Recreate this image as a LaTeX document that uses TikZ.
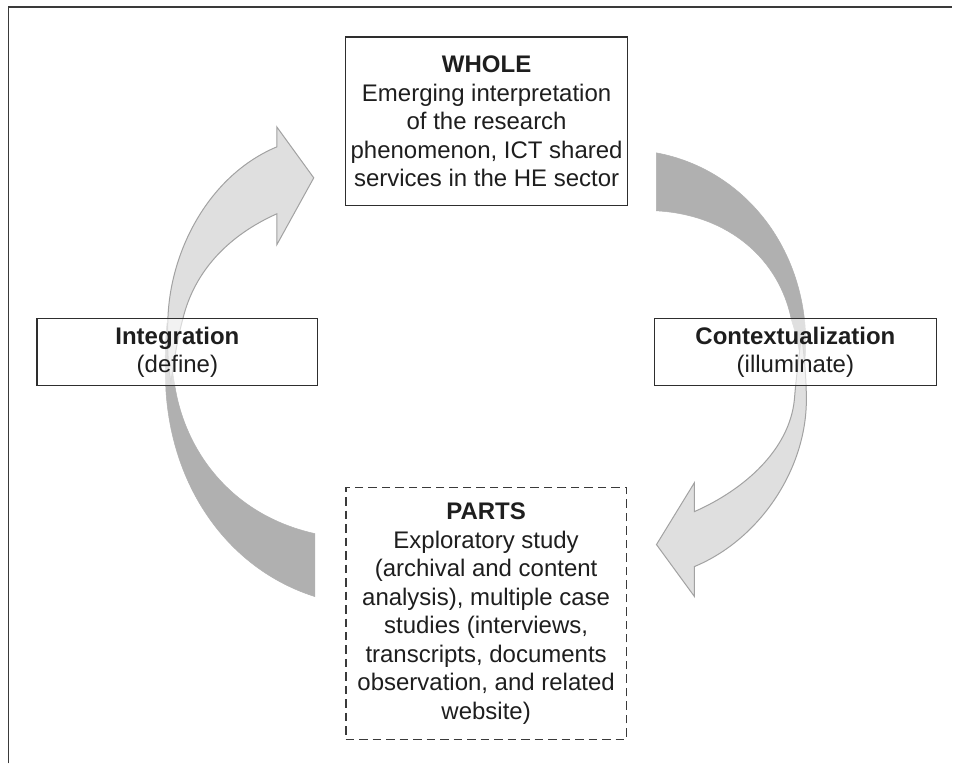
\documentclass[tikz,border=0pt]{standalone}
\usepackage{fontspec}
\setmainfont{Liberation Sans}
\begin{document}
\definecolor{frameline}{HTML}{3A3A3A}
\definecolor{boxline}{HTML}{2E2E2E}
\definecolor{inktext}{HTML}{1E1E1E}
\definecolor{lightarrow}{HTML}{DFDFDF}
\definecolor{lightedge}{HTML}{A2A2A2}
\definecolor{darkarrow}{HTML}{B0B0B0}
\begin{tikzpicture}[x=1pt,y=-1pt,
  textbox/.style={draw=boxline,line width=1.3pt,fill=white,fill opacity=0.6,
    text opacity=1,text=inktext,inner sep=0pt,align=center,
    font=\fontsize{24}{28.5}\selectfont},
  partsbox/.style={textbox,line width=1.6pt,draw=frameline,dash pattern=on 8.5pt off 5pt},
  lightshape/.style={fill=lightarrow,draw=lightedge,line width=1pt,line join=miter},
  darkshape/.style={fill=darkarrow,draw=darkarrow,line width=0.5pt}]

% page and open frame
\fill[white] (0,0) rectangle (953,764);
\draw[frameline,line width=1.5pt] (8.5,764) -- (8.5,7) -- (953,7);

% left: dark tail rising from PARTS
\path[darkshape] (315,534) -- (315,597)
  .. controls (230,570) and (172,490) .. (166,390)
  .. controls (165,365) and (165,345) .. (167,325)
  .. controls (170,350) and (172,370) .. (175,386)
  .. controls (185,450) and (230,515) .. (315,534) -- cycle;

% left: light arrow into WHOLE
\path[lightshape] (171,382)
  .. controls (168,365) and (167,345) .. (168,320)
  .. controls (170,250) and (210,175) .. (277,147)
  -- (277,127) -- (314,178) -- (277,245) -- (277,214)
  .. controls (230,235) and (195,270) .. (183,319)
  .. controls (176,345) and (174,365) .. (171,382) -- cycle;

% right: dark tail leaving WHOLE
\path[darkshape] (657,153)
  .. controls (738,168) and (800,238) .. (806,330)
  .. controls (807,345) and (806,360) .. (804,375)
  .. controls (800,350) and (797,335) .. (792,320)
  .. controls (780,260) and (730,215) .. (657,211) -- cycle;

% right: light arrow into PARTS
\path[lightshape] (802,335)
  .. controls (805,355) and (807,380) .. (807,400)
  .. controls (807,470) and (760,540) .. (695,567)
  -- (695,597) -- (657,545) -- (695,483) -- (695,512)
  .. controls (745,490) and (790,450) .. (795,400)
  .. controls (797,375) and (800,355) .. (802,335) -- cycle;

% boxes
\node[textbox,minimum width=282pt,minimum height=169pt] (whole) at (487,121.5)
  {\textbf{WHOLE}\\Emerging interpretation\\of the research\\phenomenon, ICT shared\\services in the HE sector};
\node[partsbox,minimum width=281pt,minimum height=252pt] (parts) at (486.5,614)
  {\textbf{PARTS}\\Exploratory study\\(archival and content\\analysis), multiple case\\studies (interviews,\\transcripts, documents\\observation, and related\\website)};
\node[textbox,minimum width=281pt,minimum height=67pt] (integ) at (177.5,352.5)
  {\textbf{Integration}\\(define)};
\node[textbox,minimum width=282pt,minimum height=67pt] (context) at (796,352.5)
  {\textbf{Contextualization}\\(illuminate)};
\end{tikzpicture}
\end{document}
